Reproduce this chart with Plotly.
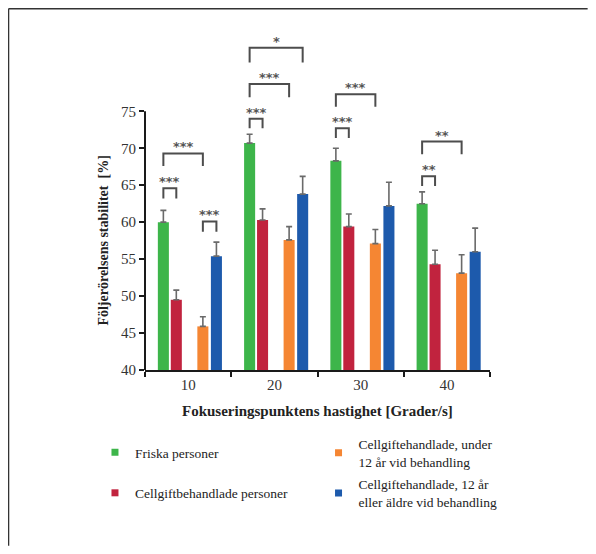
import plotly.graph_objects as go

# ---- data ----
speeds = ["10", "20", "30", "40"]
series_names = [
    "Friska personer",
    "Cellgiftbehandlade personer",
    "Cellgiftehandlade, under<br>12 år vid behandling",
    "Cellgiftehandlade, 12 år<br>eller äldre vid behandling",
]
friska = [60.0, 70.7, 68.3, 62.5]
friska_err = [1.6, 1.2, 1.7, 1.6]
behandlade = [49.5, 60.3, 59.4, 54.3]
behandlade_err = [1.3, 1.5, 1.7, 1.9]
under12 = [45.9, 57.6, 57.1, 53.1]
under12_err = [1.3, 1.8, 1.9, 2.5]
over12 = [55.4, 63.8, 62.2, 56.0]
over12_err = [1.9, 2.4, 3.2, 3.2]

# significance brackets: group, bar a, bar b, top level, leg end, label
br_group = [0, 0, 0, 1, 1, 1, 2, 2, 3, 3]
br_a = [0, 0, 2, 0, 0, 0, 0, 0, 0, 0]
br_b = [1, 2, 3, 1, 2, 3, 1, 2, 1, 2]
br_top = [64.6, 69.3, 60.1, 74.0, 78.7, 83.6, 72.7, 77.3, 66.2, 70.9]
br_leg = [63.2, 67.6, 58.7, 72.7, 76.9, 81.6, 71.4, 75.6, 64.9, 69.2]
br_label = ["***", "***", "***", "***", "***", "*", "***", "***", "**", "**"]

y_ticks = [40, 45, 50, 55, 60, 65, 70, 75]

# ---- styling ----
colors = ["#3db54a", "#c1233e", "#f58633", "#1d5aac"]
centers = [-0.287, -0.137, 0.171, 0.328]   # bar centre offset inside a group
bar_w = 0.128
serif = "Liberation Serif"

values = [friska, behandlade, under12, over12]
errors = [friska_err, behandlade_err, under12_err, over12_err]

fig = go.Figure()
for k in range(4):
    fig.add_trace(go.Bar(
        x=speeds, y=[v - 40 for v in values[k]], base=40,
        width=bar_w, offset=centers[k] - bar_w / 2,
        marker=dict(color=colors[k], line=dict(width=0)),
        error_y=dict(type="data", array=errors[k], arrayminus=[0] * 4,
                     symmetric=False, color="#6a6a6a", thickness=1.6, width=3),
        showlegend=False, name=series_names[k].replace("<br>", " "),
    ))

# legend entries (small square markers, two columns)
for k in [0, 1]:
    fig.add_trace(go.Scatter(x=[None], y=[None], mode="markers",
                             marker=dict(symbol="square", size=7, color=colors[k]),
                             name=series_names[k], legend="legend",
                             legendgroup="g%d" % k))
for k in [2, 3]:
    fig.add_trace(go.Scatter(x=[None], y=[None], mode="markers",
                             marker=dict(symbol="square", size=7, color=colors[k]),
                             name=series_names[k], legend="legend2",
                             legendgroup="g%d" % k))

shapes = []
annotations = []
for g, a, b, top, leg, lab in zip(br_group, br_a, br_b, br_top, br_leg, br_label):
    xa = g + centers[a]
    xb = g + centers[b]
    shapes.append(dict(type="path", xref="x", yref="y",
                       path="M %f,%f L %f,%f L %f,%f L %f,%f" % (xa, leg, xa, top, xb, top, xb, leg),
                       line=dict(color="#4d4d4d", width=2)))
    annotations.append(dict(x=(xa + xb) / 2, y=top, xref="x", yref="y", text=lab,
                            showarrow=False, yanchor="bottom", yshift=-3,
                            font=dict(family="DejaVu Sans", size=13, color="#555555",
                                      weight="bold")))

# y axis line only from 40 to 75
shapes.append(dict(type="line", xref="paper", yref="y", x0=0, x1=0, y0=40, y1=75,
                   line=dict(color="#1a1a1a", width=2)))
# page frame: top and left edges, kept inside the figure
shapes.append(dict(type="line", xref="paper", yref="paper", x0=-0.3957, x1=1.283,
                   y0=1.0624, y1=1.0624, line=dict(color="#333333", width=1.6)))
shapes.append(dict(type="line", xref="paper", yref="paper", x0=-0.3957, x1=-0.3957,
                   y0=-0.517, y1=1.0624, line=dict(color="#333333", width=1.6)))

annotations.append(dict(x=-0.119, y=57.5, xref="paper", yref="y",
                        text="Följerörelsens stabilitet  [%]", textangle=-90,
                        showarrow=False, xanchor="center", yanchor="middle",
                        font=dict(family=serif, size=14, color="#222222", weight="bold")))
annotations.append(dict(x=0.5, y=-0.121, xref="paper", yref="paper",
                        text="Fokuseringspunktens hastighet [Grader/s]",
                        showarrow=False, xanchor="center", yanchor="middle",
                        font=dict(family=serif, size=15, color="#222222", weight="bold")))

fig.update_layout(
    width=580, height=538,
    margin=dict(l=137, r=98, t=22, b=176),
    paper_bgcolor="white", plot_bgcolor="white",
    barmode="overlay",
    shapes=shapes, annotations=annotations,
    xaxis=dict(type="category", range=[-0.5, 3.5], tickson="boundaries",
               ticks="outside", ticklen=5, tickwidth=1.6, tickcolor="#1a1a1a",
               showline=True, linecolor="#1a1a1a", linewidth=2,
               showgrid=False, zeroline=False,
               tickfont=dict(family=serif, size=15, color="#333333")),
    yaxis=dict(range=[40, 86], tickvals=y_ticks, ticks="outside", ticklen=5,
               tickwidth=1.6, tickcolor="#1a1a1a", showline=False,
               showgrid=False, zeroline=False,
               tickfont=dict(family=serif, size=15, color="#333333")),
    legend=dict(x=-0.145, y=-0.197, xanchor="left", yanchor="top",
                tracegroupgap=20, bgcolor="rgba(0,0,0,0)",
                font=dict(family=serif, size=13.5, color="#222222")),
    legend2=dict(x=0.503, y=-0.173, xanchor="left", yanchor="top",
                 tracegroupgap=2, bgcolor="rgba(0,0,0,0)",
                 font=dict(family=serif, size=13.5, color="#222222")),
)

fig.write_html("out.html")
